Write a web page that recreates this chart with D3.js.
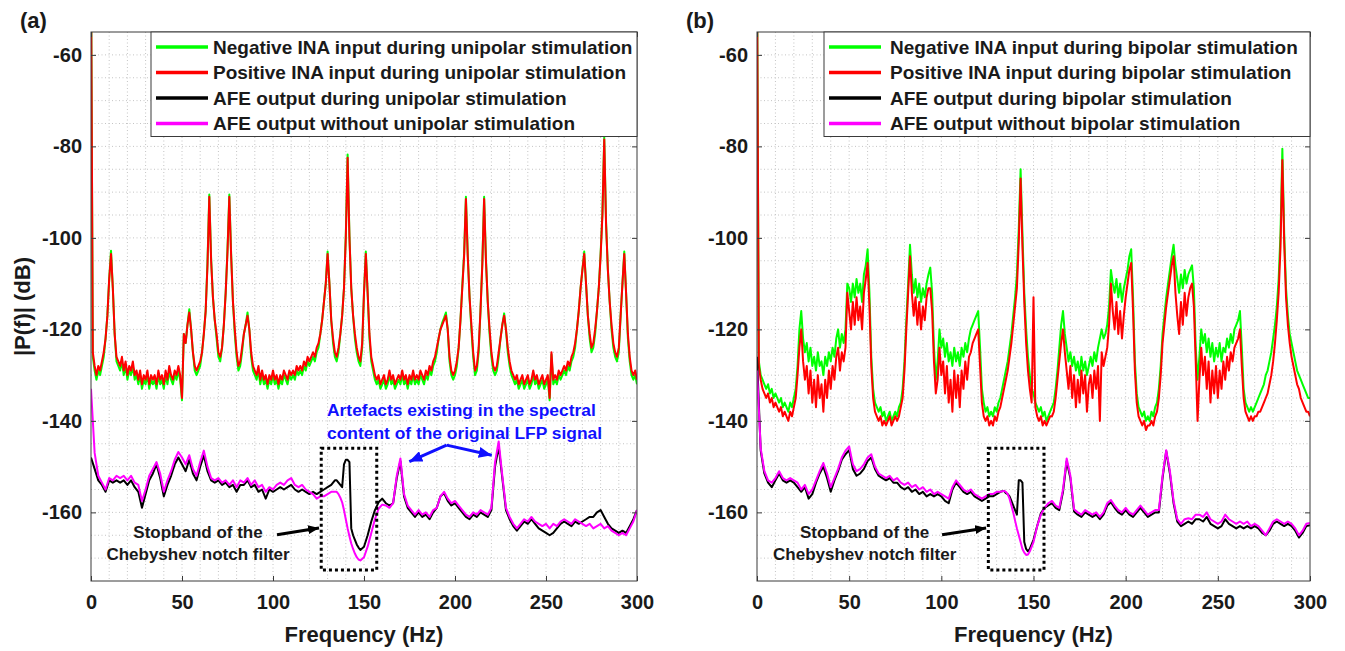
<!DOCTYPE html>
<html>
<head>
<meta charset="utf-8">
<script src="https://cdn.jsdelivr.net/npm/d3@7"></script>
<style>
  body { margin: 0; background: #fff; }
  svg text { font-family: "Liberation Sans", Arial, sans-serif; font-weight: bold; fill: #1a1a1a; }
  .grid { stroke: #c4c4c4; stroke-width: 1; stroke-dasharray: 1,2.5; }
</style>
</head>
<body>
<svg id="chart" width="1345" height="651"></svg>
<script>
/* global d3 */

// frequency bins (Hz)
var inaFreqs = d3.range(0, 301);
var afeFreqs = d3.range(0, 135, 2).concat(d3.range(135, 149), d3.range(150, 301, 2));

var xTicks = [0, 50, 100, 150, 200, 250, 300];
var yTicks = [-160, -140, -120, -100, -80, -60];

var seriesColors = ['#00ff00', '#ff0000', '#000000', '#ff00ff'];

var legendUni = [
  'Negative INA input during unipolar stimulation',
  'Positive INA input during unipolar stimulation',
  'AFE output during unipolar stimulation',
  'AFE output without unipolar stimulation'
];
var legendBi = [
  'Negative INA input during bipolar stimulation',
  'Positive INA input during bipolar stimulation',
  'AFE output during bipolar stimulation',
  'AFE output without bipolar stimulation'
];

// (a) unipolar, INA inputs, 1 Hz bins
var negUni = [
  -40, -126, -129, -131, -129, -130, -128, -126, -122, -117,
  -109, -102.8, -111, -121, -127, -128, -129, -127, -130, -128,
  -131, -129, -130, -128, -131, -130, -132, -130, -133, -131,
  -132, -130, -133, -131, -132, -131, -133, -130, -132, -131,
  -133, -130, -132, -129, -131, -132, -130, -131, -129, -131,
  -135.5, -121, -123, -119, -115.6, -120, -125, -129, -130, -129,
  -128, -125, -121, -116, -105.5, -90.5, -104.5, -113, -118, -122,
  -126, -127, -124, -119, -112, -102.5, -90.5, -103.5, -114, -121,
  -126, -129, -128, -125, -121, -119, -116.3, -120, -126, -129,
  -130, -131, -129, -132, -130, -132, -131, -133, -131, -132,
  -130, -132, -131, -133, -131, -132, -130, -131, -132, -130,
  -131, -130, -131, -129, -130, -129, -130, -128, -129, -127,
  -128, -127, -126, -127, -125, -124, -121, -118, -114, -110,
  -103, -110, -118, -123, -126, -127, -125, -121, -117, -111,
  -99.5, -81.8, -99.5, -111, -117, -122, -125, -127, -128, -124,
  -112, -103, -112, -122, -127, -129, -131, -132, -131, -133,
  -132, -131, -133, -132, -130, -132, -131, -133, -132, -131,
  -132, -130, -132, -131, -133, -131, -132, -130, -132, -131,
  -132, -130, -131, -132, -130, -131, -129, -130, -128, -127,
  -125, -122, -120, -118.5, -117.5, -116.3, -120, -127, -130, -131,
  -130, -128, -124, -118, -110.5, -103.5, -91, -103.5, -113, -120,
  -126, -130, -129, -125, -116, -105.5, -91, -104.5, -114, -121,
  -126, -129, -130, -129, -126, -122, -119, -116.5, -120, -125,
  -128, -130, -131, -132, -131, -133, -132, -131, -133, -132,
  -131, -133, -132, -130, -132, -131, -133, -132, -131, -133,
  -132, -131, -135.5, -125.5, -132, -131, -132, -130, -131, -130,
  -129, -130, -128, -129, -127, -126, -124, -120, -116, -111,
  -107, -103, -110, -117, -122, -125, -124, -121, -116, -111,
  -103.5, -94.5, -78, -96.5, -107, -114, -120, -124, -126, -127,
  -125, -117, -110, -103, -112, -122, -127, -130, -131, -130,
  -132
];
var posUni = [
  -40, -125, -128, -130, -128, -129, -127, -125, -122, -117,
  -109, -103.5, -111, -121, -126, -127, -128, -126, -129, -127,
  -130, -128, -129, -127, -130, -129, -131, -129, -132, -130,
  -131, -129, -132, -130, -131, -130, -132, -129, -131, -130,
  -132, -129, -131, -128, -130, -131, -129, -130, -128, -130,
  -135, -121, -123, -119, -116.3, -120, -125, -128, -129, -128,
  -127, -125, -121, -116, -106, -91, -105, -113, -118, -121,
  -125, -126, -124, -119, -112, -103, -91, -104, -114, -120,
  -125, -128, -127, -124, -121, -119, -117, -120, -125, -128,
  -129, -130, -128, -131, -129, -131, -130, -132, -130, -131,
  -129, -131, -130, -132, -130, -131, -129, -130, -131, -129,
  -130, -129, -130, -128, -129, -128, -129, -127, -128, -126,
  -127, -126, -125, -126, -124, -123, -121, -118, -114, -110,
  -103.5, -110, -118, -122, -125, -126, -124, -121, -117, -111,
  -100, -82.5, -100, -111, -117, -121, -124, -126, -127, -123,
  -112, -103.5, -112, -121, -126, -128, -130, -131, -130, -132,
  -131, -130, -132, -131, -129, -131, -130, -132, -131, -130,
  -131, -129, -131, -130, -132, -130, -131, -129, -131, -130,
  -131, -129, -130, -131, -129, -130, -128, -129, -127, -126,
  -124, -122, -120, -119, -118, -117, -120, -126, -129, -130,
  -129, -127, -124, -118, -111, -104, -91.5, -104, -113, -119,
  -125, -129, -128, -124, -116, -106, -91.5, -105, -114, -120,
  -125, -128, -129, -128, -125, -122, -119, -117, -120, -124,
  -127, -129, -130, -131, -130, -132, -131, -130, -132, -131,
  -130, -132, -131, -129, -131, -130, -132, -131, -130, -132,
  -131, -130, -135, -125, -131, -130, -131, -129, -130, -129,
  -128, -129, -127, -128, -126, -125, -123, -120, -116, -111,
  -107, -103.5, -110, -117, -121, -124, -123, -120, -116, -111,
  -104, -95, -78.5, -97, -107, -114, -119, -123, -125, -126,
  -124, -117, -110, -103.5, -112, -121, -126, -129, -130, -129,
  -131
];

// (a) AFE outputs, on afeFreqs
var afeUni = [
  -148, -150.5, -153, -154, -155.5, -153, -153.5, -153, -153.5, -153,
  -154, -153, -154.5, -155.5, -159, -156, -153, -151.5, -149.5, -152.5,
  -156.5, -154, -152, -149.5, -148, -149.5, -151, -148.5, -151.5, -153,
  -150, -147.5, -151, -153, -153.5, -153, -154, -153.5, -154.5, -154,
  -155.5, -154, -154, -153, -154.5, -154, -155.5, -155, -157, -155,
  -155.5, -155, -154.5, -155, -154.5, -154, -155, -155.5, -155, -155.5,
  -156, -155.5, -156, -155.5, -155, -154.5, -154, -153,
  -153, -153.5, -154, -154.5, -149.5, -148.5, -148.5, -149, -163.5, -165, -166, -167, -167.7, -168.2,
  -167.5, -165, -162, -159.5, -157.8, -157, -158, -158.5, -158, -152.5,
  -148.8, -156.5, -159, -160, -161, -160, -161, -160.5, -161.5, -160,
  -159, -156.5, -155.8, -157.5, -158.5, -158, -159, -160, -161, -161.5,
  -160.5, -161, -160, -160.5, -161, -159.5, -150, -145.6, -152.5, -159.5,
  -161.5, -163, -164, -163, -162, -162.5, -161.5, -162.5, -163.5, -164,
  -164.5, -165, -164.5, -163.5, -162.5, -162, -162.5, -163, -162, -162.5,
  -162, -161.5, -161, -161, -160, -159.5, -161, -162.5, -163.5, -164,
  -164.5, -164, -164.5, -163, -161.5, -159.5
];
var afeNoUni = [
  -133, -147, -152, -153.5, -155, -152.5, -153, -152, -152.5, -152,
  -153, -152, -153.5, -154, -157.5, -155, -152, -150.5, -149, -151.5,
  -155.5, -153, -151, -148.5, -146.8, -148, -149.5, -147.5, -150.5, -152,
  -149, -146.5, -150, -152.5, -153, -152.5, -153.5, -153, -154, -153,
  -154.5, -153, -153.5, -152.5, -154, -153, -154.5, -154, -155.5, -154.5,
  -155, -154, -153.5, -154, -153, -152.5, -154, -154.5, -154, -155,
  -155.5, -156, -157, -156.5, -156.5, -156, -155.5, -155.5,
  -155.5, -156, -156.8, -157.8, -159.5, -161.5, -163.5, -165.2, -166.8, -168, -169, -169.8, -170.3, -170.5,
  -169.8, -167.5, -164.5, -161.5, -159.2, -158.3, -158.5, -159, -158, -152,
  -148.2, -156, -158.5, -159.5, -160.5, -159.5, -160.5, -160, -161, -159.5,
  -159, -156.5, -155.5, -157, -158, -157.5, -158.5, -159.5, -160.5, -161,
  -160, -160.5, -159.5, -160, -160.5, -159, -149, -144.5, -152, -159,
  -161, -162.5, -163.5, -162.5, -161.5, -162, -161, -162, -162.5, -163,
  -162.5, -163.5, -162.5, -163, -162, -161.5, -162, -162.5, -161.5, -162,
  -162.5, -163, -162.5, -163.5, -163, -162.5, -163.5, -163, -164, -164.5,
  -165, -164.5, -165, -163.5, -162, -159.5
];

// (b) bipolar, INA inputs, 1 Hz bins
var negBi = [
  -40, -127, -130, -131, -132, -133, -132, -134, -133, -135,
  -134, -135, -136, -135, -137, -136, -137, -138, -136, -137,
  -135, -133, -128, -120, -116, -122, -125, -123, -127, -124,
  -128, -126, -129, -125, -128, -127, -130, -126, -128, -125,
  -127, -124, -126, -122, -120, -124, -121, -123, -120, -110,
  -111, -114, -110, -113, -109, -112, -110, -114, -108, -106,
  -102.5, -112, -126, -133, -136, -137, -138, -137, -139, -138,
  -140, -139, -138, -140, -139, -138, -139, -137, -136, -133,
  -127, -118, -110, -101.5, -108, -112, -109, -113, -110, -114,
  -111, -113, -110, -108, -106.5, -112, -124, -131, -127, -120,
  -124, -122, -126, -123, -127, -125, -128, -124, -127, -125,
  -128, -124, -126, -123, -125, -122, -120, -119, -118, -117,
  -116, -124, -133, -136, -138, -137, -139, -138, -139, -137,
  -138, -136, -135, -133, -131, -129, -127, -124, -121, -117,
  -113, -108, -98, -85, -99, -112, -120, -126, -130, -133,
  -134, -136, -137, -138, -137, -139, -138, -140, -139, -138,
  -137, -136, -133, -129, -124, -119, -116, -121, -124, -127,
  -125, -128, -126, -129, -127, -130, -126, -129, -127, -130,
  -128, -126, -128, -125, -127, -124, -122, -120, -122, -121,
  -119, -115, -107, -110, -112, -109, -113, -110, -114, -111,
  -109, -107, -104, -102.5, -113, -127, -134, -137, -138, -139,
  -138, -140, -139, -140, -138, -139, -137, -136, -133, -128,
  -121, -117, -113, -110, -107, -104, -101.5, -106, -109, -112,
  -108, -111, -107, -110, -108, -107, -106, -111, -124, -131,
  -126, -120, -123, -121, -125, -122, -126, -123, -127, -124,
  -126, -123, -127, -124, -125, -122, -124, -121, -123, -120,
  -119, -118, -116, -124, -133, -136, -137, -138, -137, -138,
  -137, -136, -135, -134, -133, -132, -130, -129, -127, -125,
  -122, -119, -115, -109, -99, -80.5, -99, -111, -117, -121,
  -123, -125, -127, -129, -130, -131, -132, -133, -134, -135,
  -135
];
var posBi = [
  -40, -128, -131, -133, -134, -135, -134, -136, -135, -137,
  -136, -137, -138, -137, -139, -138, -139, -140, -138, -139,
  -137, -135, -130, -124, -120, -127, -131, -128, -134, -129,
  -136, -131, -137, -130, -135, -132, -138, -131, -135, -129,
  -133, -128, -131, -126, -124, -129, -125, -127, -124, -112,
  -116, -120, -114, -119, -113, -118, -115, -120, -112, -109,
  -105.5, -115, -128, -135, -138, -139, -140, -139, -141, -140,
  -141, -140, -139, -141, -140, -139, -140, -139, -137, -135,
  -129, -120, -112, -104, -112, -117, -113, -119, -114, -120,
  -115, -118, -113, -111, -111, -116, -127, -134, -131, -124,
  -130, -127, -134, -128, -136, -131, -138, -129, -135, -130,
  -137, -129, -133, -127, -131, -126, -125, -123, -122, -121,
  -120, -128, -136, -139, -140, -139, -141, -140, -141, -139,
  -140, -138, -137, -135, -133, -131, -129, -126, -123, -119,
  -115, -111, -101, -87, -102, -114, -123, -129, -133, -136,
  -113, -137, -139, -140, -139, -141, -140, -141, -140, -139,
  -139, -138, -135, -131, -127, -123, -120, -125, -129, -133,
  -128, -135, -130, -137, -131, -136, -129, -134, -130, -138,
  -132, -130, -135, -129, -133, -128, -140, -125, -128, -126,
  -124, -119, -110, -116, -120, -114, -121, -116, -122, -117,
  -113, -110, -107, -105.5, -116, -129, -136, -139, -140, -141,
  -140, -142, -141, -141, -140, -141, -139, -138, -135, -130,
  -123, -119, -115, -112, -109, -106, -104, -112, -117, -121,
  -114, -119, -112, -117, -113, -111, -110, -115, -127, -140,
  -131, -124, -130, -126, -133, -127, -136, -129, -134, -128,
  -135, -129, -133, -127, -131, -126, -129, -125, -127, -124,
  -123, -122, -120, -128, -135, -138, -139, -140, -139, -140,
  -139, -139, -138, -138, -137, -136, -135, -134, -132, -130,
  -127, -123, -118, -112, -102, -83, -101, -113, -119, -123,
  -126, -128, -130, -132, -133, -135, -136, -137, -138, -138,
  -139
];

// (b) AFE outputs, on afeFreqs
var afeBi = [
  -126, -146.5, -151.5, -153.5, -154.5, -153, -151.5, -153, -153.5, -153,
  -153.5, -154.5, -155.5, -154.5, -157, -156, -153.5, -151.5, -150, -152.5,
  -155.5, -153, -151, -148.5, -147.3, -146.4, -150.5, -152, -151.5, -150.5,
  -148.8, -148, -150.5, -152, -152.5, -153, -152.5, -153.5, -153.5, -154.5,
  -155, -154.5, -155.5, -155, -156, -155.5, -156.5, -156, -156.5, -156,
  -156.5, -157.5, -158, -155, -153.5, -154.5, -155.5, -156, -155.5, -156.5,
  -157, -157.5, -157, -156.5, -156.5, -156, -155.5, -155.3,
  -155.8, -156, -156.5, -157.5, -158.5, -159.5, -160.5, -153, -153, -153.5, -166.5, -168, -168.5, -168,
  -166, -163, -160.2, -159, -158.5, -158, -159, -159.5, -155.5, -148.8,
  -152.5, -159.8, -160.5, -161, -160, -160.5, -161, -160.5, -161.5, -160.5,
  -158.5, -157.8, -159, -160, -160.5, -159.5, -160.5, -161, -160, -159,
  -160, -161, -160.5, -160, -160, -152.5, -146.6, -151.5, -158, -162,
  -163, -162.5, -162, -162.5, -161.5, -161.5, -162, -161, -162.5, -163,
  -163.5, -163, -161.5, -162.5, -163, -163.5, -163, -163.5, -163, -163.5,
  -163, -163.5, -164.5, -165, -164, -162.5, -162, -162.5, -163, -162.5,
  -163, -164, -165.5, -164.5, -163, -162.8
];
var afeNoBi = [
  -129, -146, -151, -153, -153.5, -152.5, -151, -152.5, -153, -152.5,
  -153, -153.5, -155, -154, -156, -155, -153, -151, -149.2, -151.5,
  -154.5, -152.5, -150.5, -148, -146.5, -145.6, -149.5, -151, -150.5, -149.5,
  -148, -147.3, -150, -151.5, -152, -152.5, -152, -153, -152.5, -153.5,
  -154, -153.5, -154.5, -154, -155, -154.5, -155.5, -155, -156, -155.5,
  -156, -156.5, -157, -154.5, -153, -154, -155, -155.5, -155, -156,
  -156.5, -157, -156.5, -156, -156, -155.5, -155.5, -155.3,
  -155.5, -156, -157, -158.5, -160, -161.8, -163.5, -165, -166.5, -168, -168.8, -169.3, -169.2, -168.5,
  -166.5, -163, -160.5, -159, -158, -157.5, -158.5, -159, -155, -148.2,
  -152, -159.3, -160, -160.5, -159.5, -160, -160.5, -160, -161, -160,
  -158, -157.3, -158.5, -159.5, -160, -159, -160, -160.5, -159.5, -158.5,
  -159.5, -160.5, -160, -159.5, -159.5, -152, -146.4, -151, -157.5, -161.5,
  -162.5, -161.5, -161.3, -161.5, -160.5, -160.5, -161, -160, -161.5, -162,
  -162.5, -162, -160.5, -161.5, -162, -162.5, -162, -162.5, -162, -163,
  -162.5, -163, -164, -165, -163.5, -162, -161.5, -162, -162.5, -162,
  -162.5, -163.5, -165, -164, -162.5, -162.3
];

var plotTop = 32, plotBottom = 581;
var svg = d3.select('#chart');

var defs = svg.append('defs');
[['head-black', '#000', 11, 9], ['head-blue', '#1010ff', 13, 11]].forEach(function(m) {
  defs.append('marker')
    .attr('id', m[0])
    .attr('markerUnits', 'userSpaceOnUse')
    .attr('markerWidth', m[2]).attr('markerHeight', m[3])
    .attr('refX', m[2]).attr('refY', m[3] / 2)
    .attr('orient', 'auto')
    .append('path')
    .attr('d', `M0,0L${m[2]},${m[3] / 2}L0,${m[3]}Z`)
    .attr('fill', m[1]);
});

var panels = [
  {
    id: 'a', left: 91, right: 637, tag: '(a)', tagX: 20,
    series: [negUni, posUni, afeUni, afeNoUni], legend: legendUni,
    legendLeft: 151, lineX: [156, 208], textX: 213,
    box: [126.5, 157], stopTextF: 58.8,
    arrow: [[102.2, -164.9], [125.3, -163.4]],
    blue: true
  },
  {
    id: 'b', left: 757, right: 1310, tag: '(b)', tagX: 686,
    series: [negBi, posBi, afeBi, afeNoBi], legend: legendBi,
    legendLeft: 824, lineX: [829, 881], textX: 890,
    box: [125.5, 155.7], stopTextF: 58.4,
    arrow: [[100.4, -164.9], [124.3, -163.4]],
    blue: false
  }
];

panels.forEach(function(p) {

  var x = d3.scaleLinear().domain([0, 300]).range([p.left, p.right]);
  var y = d3.scaleLinear().domain([-175, -55]).range([plotBottom, plotTop]);

  var g = svg.append('g').attr('class', 'panel-' + p.id);

  // dotted grid (major + minor)
  g.append('g').selectAll('line').data(d3.range(10, 300, 10)).join('line')
    .attr('class', 'grid')
    .attr('x1', d => x(d)).attr('x2', d => x(d))
    .attr('y1', plotTop).attr('y2', plotBottom);
  g.append('g').selectAll('line').data(d3.range(-170, -55, 5)).join('line')
    .attr('class', 'grid')
    .attr('x1', p.left).attr('x2', p.right)
    .attr('y1', d => y(d)).attr('y2', d => y(d));

  defs.append('clipPath').attr('id', 'clip-' + p.id)
    .append('rect')
    .attr('x', p.left).attr('y', plotTop)
    .attr('width', p.right - p.left).attr('height', plotBottom - plotTop);

  var plot = g.append('g').attr('clip-path', `url(#clip-${p.id})`);

  p.series.forEach(function(values, k) {
    var freqs = k < 2 ? inaFreqs : afeFreqs;
    var line = d3.line()
      .defined((d, i) => freqs[i] !== undefined)
      .x((d, i) => x(freqs[i]))
      .y(d => y(d));
    plot.append('path')
      .datum(values)
      .attr('d', line)
      .attr('fill', 'none')
      .attr('stroke', seriesColors[k])
      .attr('stroke-width', 2)
      .attr('stroke-linejoin', 'round');
  });

  // axes box
  g.append('rect')
    .attr('x', p.left).attr('y', plotTop)
    .attr('width', p.right - p.left).attr('height', plotBottom - plotTop)
    .attr('fill', 'none').attr('stroke', '#3a3a3a').attr('stroke-width', 1);

  var fmt = d => String(d);
  var xAxis = g.append('g')
    .attr('transform', `translate(0,${plotBottom})`)
    .call(d3.axisBottom(x).tickValues(xTicks).tickFormat(fmt).tickSizeInner(-5).tickSizeOuter(0).tickPadding(14));
  var xTop = g.append('g')
    .attr('transform', `translate(0,${plotTop})`)
    .call(d3.axisTop(x).tickValues(xTicks).tickSizeInner(-5).tickSizeOuter(0).tickFormat(''));
  var yAxis = g.append('g')
    .attr('transform', `translate(${p.left},0)`)
    .call(d3.axisLeft(y).tickValues(yTicks).tickFormat(fmt).tickSizeInner(-5).tickSizeOuter(0).tickPadding(9));
  var yRight = g.append('g')
    .attr('transform', `translate(${p.right},0)`)
    .call(d3.axisRight(y).tickValues(yTicks).tickSizeInner(-5).tickSizeOuter(0).tickFormat(''));

  [xAxis, xTop, yAxis, yRight].forEach(function(a) {
    a.select('.domain').remove();
    a.selectAll('.tick line').attr('stroke', '#3a3a3a');
    a.selectAll('.tick text')
      .attr('font-size', 20)
      .attr('font-family', null)
      .attr('fill', '#1a1a1a');
  });

  g.append('text')
    .attr('x', (p.left + p.right) / 2)
    .attr('y', 642)
    .attr('text-anchor', 'middle')
    .attr('font-size', 22)
    .text('Frequency (Hz)');

  g.append('text')
    .attr('x', p.tagX)
    .attr('y', 28)
    .attr('font-size', 22)
    .attr('fill', '#000')
    .text(p.tag);

  // legend
  var lg = g.append('g');
  lg.append('rect')
    .attr('x', p.legendLeft).attr('y', plotTop)
    .attr('width', p.right - p.legendLeft).attr('height', 104.5)
    .attr('fill', '#fff').attr('stroke', '#3a3a3a').attr('stroke-width', 1);
  var row = lg.selectAll('g.row').data(p.legend).join('g')
    .attr('class', 'row')
    .attr('transform', (d, i) => `translate(0,${47 + i * 25.5})`);
  row.append('line')
    .attr('x1', p.lineX[0]).attr('x2', p.lineX[1])
    .attr('stroke', (d, i) => seriesColors[i])
    .attr('stroke-width', 3.5);
  row.append('text')
    .attr('x', p.textX)
    .attr('y', 6.8)
    .attr('font-size', 19)
    .attr('fill', '#000')
    .text(d => d);

  // stopband annotation
  g.append('rect')
    .attr('x', x(p.box[0])).attr('y', y(-146))
    .attr('width', x(p.box[1]) - x(p.box[0])).attr('height', y(-172.6) - y(-146))
    .attr('fill', 'none').attr('stroke', '#000')
    .attr('stroke-width', 3).attr('stroke-dasharray', '3,3');
  g.append('text')
    .attr('x', x(p.stopTextF)).attr('y', y(-165.6))
    .attr('text-anchor', 'middle').attr('font-size', 17).attr('fill', '#000')
    .text('Stopband of the');
  g.append('text')
    .attr('x', x(p.stopTextF)).attr('y', y(-170.4))
    .attr('text-anchor', 'middle').attr('font-size', 17).attr('fill', '#000')
    .text('Chebyshev notch filter');
  g.append('line')
    .attr('x1', x(p.arrow[0][0])).attr('y1', y(p.arrow[0][1]))
    .attr('x2', x(p.arrow[1][0])).attr('y2', y(p.arrow[1][1]))
    .attr('stroke', '#000').attr('stroke-width', 3)
    .attr('marker-end', 'url(#head-black)');

  if (p.blue) {
    var blue = '#1010ff';
    g.append('text')
      .attr('x', x(129.7)).attr('y', y(-138.9))
      .attr('font-size', 17.4).style('fill', blue)
      .text('Artefacts existing in the spectral');
    g.append('text')
      .attr('x', x(129.7)).attr('y', y(-144))
      .attr('font-size', 17.4).style('fill', blue)
      .text('content of the original LFP signal');
    [[174.9, -148.9], [220.2, -147.5]].forEach(function(tip) {
      g.append('line')
        .attr('x1', x(195.4)).attr('y1', y(-145.3))
        .attr('x2', x(tip[0])).attr('y2', y(tip[1]))
        .attr('stroke', blue).attr('stroke-width', 3)
        .attr('marker-end', 'url(#head-blue)');
    });
  }
});

// shared y label
svg.append('text')
  .attr('transform', `translate(30,${(plotTop + plotBottom) / 2}) rotate(-90)`)
  .attr('text-anchor', 'middle')
  .attr('font-size', 22)
  .text('|P(f)| (dB)');
</script>
</body>
</html>
